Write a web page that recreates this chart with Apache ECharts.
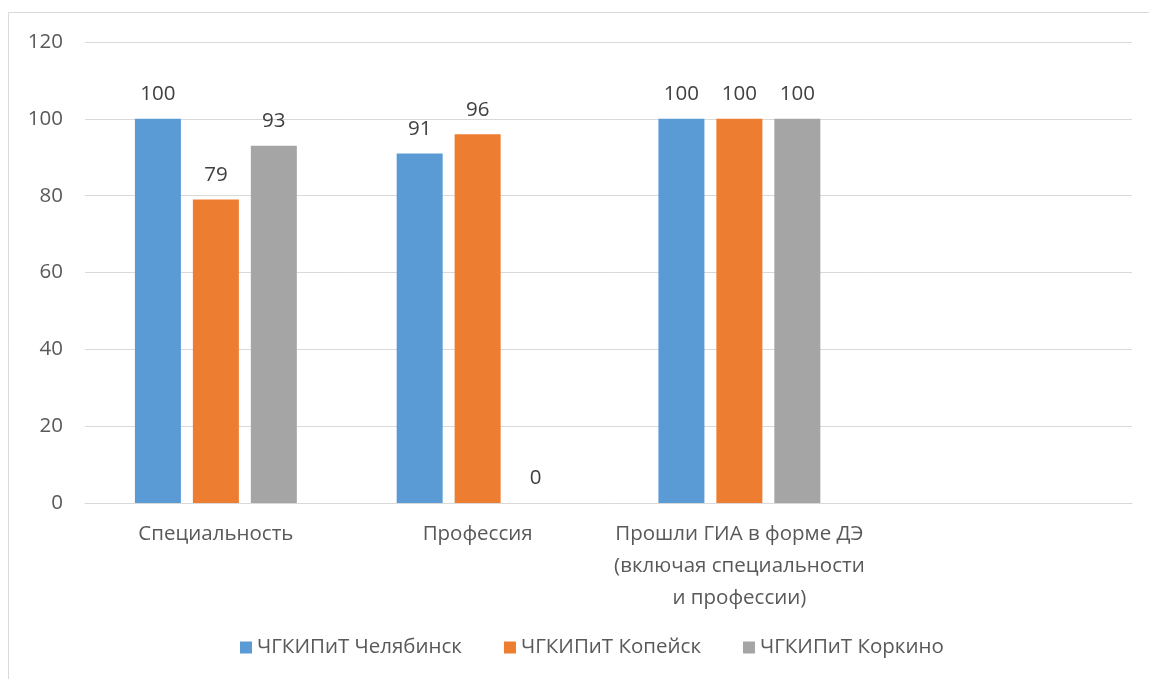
<!DOCTYPE html>
<html><head><meta charset="utf-8">
<script src="https://cdn.jsdelivr.net/npm/echarts@6/dist/echarts.min.js"></script>
<style>html,body{margin:0;padding:0;background:#fff}#c{width:1149px;height:679px}</style>
</head><body><div id="c"></div>
<script>
const categories = ['Специальность', 'Профессия', 'Прошли ГИА в форме ДЭ\n(включая специальности\nи профессии)', ''];
const seriesNames = ['ЧГКИПиТ Челябинск', 'ЧГКИПиТ Копейск', 'ЧГКИПиТ Коркино'];
const chelyabinsk = [100, 91, 100, null];
const kopeysk = [79, 96, 100, null];
const korkino = [93, 0, 100, null];
const colors = ['#5B9BD5', '#ED7D31', '#A5A5A5'];
const font = 'Open Sans';
const fs = 20.5;
const chart = echarts.init(document.getElementById('c'));
const mk = (name, data, color) => ({
  name, type: 'bar', data, barWidth: 46, barGap: '26%',
  itemStyle: { color },
  label: { show: true, position: 'top', distance: 14, color: '#404040', fontSize: fs, fontFamily: font }
});
chart.setOption({
  animation: false,
  color: colors,
  graphic: [{ type: 'rect', shape: { x: 8.5, y: 12.5, width: 1200, height: 700 }, style: { fill: 'none', stroke: '#d9d9d9', lineWidth: 1 }, silent: true }],
  grid: { left: 85, right: 17, top: 42, bottom: 176, containLabel: false },
  legend: {
    bottom: 16, left: 235, itemWidth: 12, itemHeight: 12, itemGap: 42,
    icon: 'rect',
    textStyle: { color: '#595959', fontSize: fs, fontFamily: font }
  },
  xAxis: {
    type: 'category', data: categories,
    axisLine: { lineStyle: { color: '#d9d9d9', width: 1 } },
    axisTick: { show: false },
    axisLabel: { color: '#595959', fontSize: fs, fontFamily: font, margin: 15, lineHeight: 32, interval: 0 }
  },
  yAxis: {
    type: 'value', min: 0, max: 120, interval: 20,
    axisLine: { show: false }, axisTick: { show: false },
    splitLine: { lineStyle: { color: '#d9d9d9', width: 1 } },
    axisLabel: { color: '#595959', fontSize: fs, fontFamily: font, margin: 22 }
  },
  series: [mk(seriesNames[0], chelyabinsk, colors[0]), mk(seriesNames[1], kopeysk, colors[1]), mk(seriesNames[2], korkino, colors[2])]
});
</script></body></html>
